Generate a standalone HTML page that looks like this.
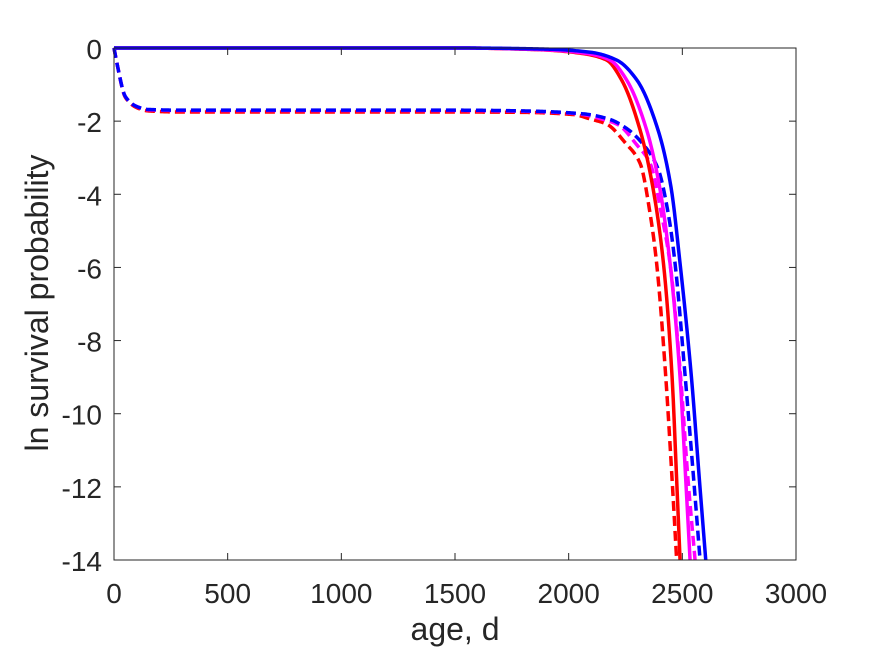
<!DOCTYPE html>
<html><head><meta charset="utf-8"><style>
body{margin:0;background:#fff}
svg{display:block;font-family:"Liberation Sans",sans-serif}
</style></head><body>
<svg id="chart" width="875" height="656" viewBox="0 0 875 656">
<rect x="0" y="0" width="875" height="656" fill="#fff"/>
<g id="plot"></g>
<g id="axes"></g>
<text x="455" y="640" text-anchor="middle" font-size="32" fill="#262626">age, d</text>
<text transform="translate(48,303) rotate(-90)" text-anchor="middle" font-size="32" fill="#262626">ln survival probability</text>
</svg>
<script>
const xTicks=[0,500,1000,1500,2000,2500,3000];
const yTicks=[0,-2,-4,-6,-8,-10,-12,-14];
const solidBlue=[[0,0],[1500,0],[1900,-0.03],[2100,-0.12],[2211,-0.33],[2300,-0.875],[2393,-2.24],[2450,-3.8],[2490,-5.89],[2540,-9],[2575,-11.8],[2603,-14]];
const solidMagenta=[[0,0],[1500,0],[1900,-0.05],[2080,-0.15],[2182,-0.33],[2255,-0.875],[2343,-2.24],[2400,-3.8],[2446,-5.89],[2490,-9],[2515,-11.8],[2534,-14]];
const solidRed=[[0,0],[1500,0],[1880,-0.05],[2060,-0.15],[2167,-0.33],[2233,-0.875],[2314,-2.24],[2370,-3.8],[2417,-5.89],[2455,-9],[2475,-11.8],[2490,-14]];
const dashRed=[[0,0],[13,-0.42],[50,-1.35],[100,-1.63],[150,-1.72],[300,-1.75],[1500,-1.75],[1800,-1.76],[2020,-1.82],[2100,-1.95],[2167,-2.08],[2250,-2.6],[2314,-3.15],[2360,-4.6],[2387,-5.89],[2425,-8.8],[2455,-11.8],[2475,-14]];
const dashMagenta=[[0,0],[13,-0.42],[50,-1.33],[100,-1.6],[150,-1.69],[300,-1.71],[1500,-1.71],[1800,-1.73],[2040,-1.8],[2150,-1.95],[2218,-2.1],[2300,-2.65],[2358,-3.15],[2410,-4.6],[2446,-5.89],[2490,-8.8],[2525,-11.8],[2556,-14]];
const dashBlue=[[0,0],[13,-0.42],[50,-1.33],[100,-1.6],[150,-1.68],[300,-1.7],[1500,-1.7],[1800,-1.72],[2063,-1.8],[2180,-1.95],[2255,-2.2],[2330,-2.65],[2393,-3.3],[2440,-4.6],[2468,-5.89],[2510,-8.8],[2550,-11.8],[2578,-14]];
const L=114,R=796,T=48,B=560;
const xs=v=>L+(v-0)/3000*(R-L);
const ys=v=>T+(0-v)/14*(B-T);
const NS="http://www.w3.org/2000/svg";
const plot=document.getElementById('plot'),axes=document.getElementById('axes');
function mk(t,a,p){const e=document.createElementNS(NS,t);for(const k in a)e.setAttribute(k,a[k]);p.appendChild(e);return e;}
// monotone cubic (Fritsch-Carlson) interpolation in data space, sampled densely
function pathFor(d){
  const n=d.length,x=d.map(q=>q[0]),y=d.map(q=>q[1]);
  const h=[],s=[];
  for(let i=0;i<n-1;i++){h[i]=x[i+1]-x[i];s[i]=(y[i+1]-y[i])/h[i];}
  const m=new Array(n);
  m[0]=s[0];m[n-1]=s[n-2];
  for(let i=1;i<n-1;i++){
    if(s[i-1]*s[i]<=0)m[i]=0;
    else{const w1=2*h[i]+h[i-1],w2=h[i]+2*h[i-1];m[i]=(w1+w2)/(w1/s[i-1]+w2/s[i]);}
  }
  let str='M'+xs(x[0]).toFixed(2)+','+ys(y[0]).toFixed(2);
  for(let i=0;i<n-1;i++){
    const N=Math.max(4,Math.ceil(h[i]/5));
    for(let k=1;k<=N;k++){
      const t=k/N,t2=t*t,t3=t2*t;
      const v=(2*t3-3*t2+1)*y[i]+(t3-2*t2+t)*h[i]*m[i]+(-2*t3+3*t2)*y[i+1]+(t3-t2)*h[i]*m[i+1];
      str+='L'+xs(x[i]+t*h[i]).toFixed(2)+','+ys(v).toFixed(2);
    }
  }
  return str;
}
const series=[[dashRed,'#ff0000',true,'dashed-red'],[dashMagenta,'#ff00ff',true,'dashed-magenta'],[dashBlue,'#0000ff',true,'dashed-blue'],
[solidRed,'#ff0000',false,'solid-red'],[solidMagenta,'#ff00ff',false,'solid-magenta'],[solidBlue,'#0000ff',false,'solid-blue']];
for(const [d,c,dash,n] of series){
  const a={d:pathFor(d),fill:'none',stroke:c,'stroke-width':3.5,'stroke-linejoin':'round'};
  if(dash)a['stroke-dasharray']='10,5';
  const e=mk('path',a,plot);
  
  
}
const box=mk('rect',{x:L,y:T,width:R-L,height:B-T,fill:'none',stroke:'#262626','stroke-width':1},axes);


for(const t of xTicks){
  const x=xs(t);
  mk('line',{x1:x,y1:B,x2:x,y2:B-7,stroke:'#262626'},axes);
  mk('line',{x1:x,y1:T,x2:x,y2:T+7,stroke:'#262626'},axes);
  const tx=mk('text',{x:x,y:603,'text-anchor':'middle','font-size':28,fill:'#262626'},axes);
  tx.textContent=t;
  
  
}
for(const t of yTicks){
  const y=ys(t);
  mk('line',{x1:L,y1:y,x2:L+7,y2:y,stroke:'#262626'},axes);
  mk('line',{x1:R,y1:y,x2:R-7,y2:y,stroke:'#262626'},axes);
  const tx=mk('text',{x:L-12,y:y+11,'text-anchor':'end','font-size':28,fill:'#262626'},axes);
  tx.textContent=t;
  
  
}
</script>
</body></html>
